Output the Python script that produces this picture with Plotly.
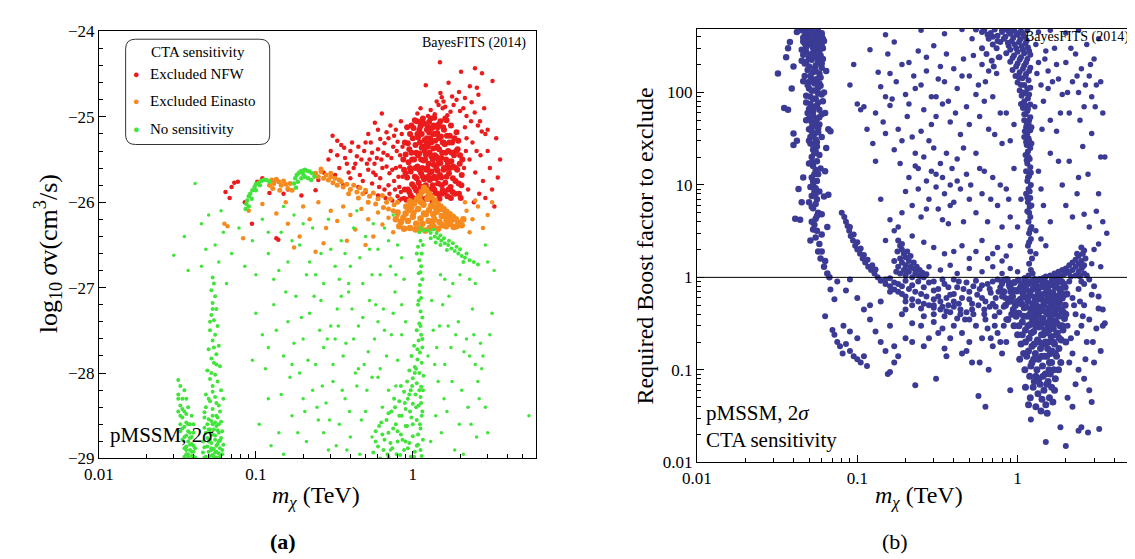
import plotly.graph_objects as go

# ---------------- panel (a): log10 sigma v vs m_chi (TeV) ----------------
# points are (mass in TeV, log10 <sigma v>)
nfw_core = [(0.88,-25.62),(0.89,-25.85),(0.9,-25.44),(0.91,-25.97),(0.92,-25.71),(0.93,-25.31),(0.94,-25.53),(0.95,-25.88),
    (0.96,-25.2),(0.97,-25.64),(0.98,-25.42),(0.99,-25.79),(1.0,-25.95),(1.01,-25.13),(1.02,-25.5),(1.03,-25.7),(1.04,-25.33),
    (1.05,-25.86),(1.06,-25.05),(1.07,-25.58),(1.08,-25.24),(1.09,-25.77),(1.1,-25.43),(1.11,-25.93),(1.12,-25.11),(1.13,-25.66),
    (1.14,-25.36),(1.15,-25.82),(1.16,-25.02),(1.17,-25.51),(1.18,-25.73),(1.19,-25.27),(1.2,-25.96),(1.21,-25.44),(1.22,-25.62),
    (1.23,-25.15),(1.24,-25.85),(1.25,-25.35),(1.26,-25.55),(1.27,-25.06),(1.28,-25.74),(1.29,-25.25),(1.3,-25.92),(1.31,-25.46),
    (1.32,-25.64),(1.33,-25.13),(1.34,-25.8),(1.35,-25.37),(1.36,-25.56),(1.37,-25.01),(1.38,-25.7),(1.39,-25.28),(1.4,-25.89),
    (1.42,-25.47),(1.43,-25.19),(1.44,-25.63),(1.45,-25.78),(1.46,-25.09),(1.47,-25.38),(1.48,-25.96),(1.5,-25.54),(1.51,-25.23),
    (1.52,-25.71),(1.54,-25.42),(1.55,-25.86),(1.56,-25.12),(1.58,-25.6),(1.6,-25.32),(1.61,-25.77),(1.63,-25.5),(1.64,-25.04),
    (1.66,-25.93),(1.68,-25.4),(1.7,-25.66),(1.72,-25.22),(1.74,-25.82),(1.76,-25.52),(1.78,-25.3),(1.8,-25.72),(1.83,-25.45),
    (1.86,-25.9),(1.88,-25.6),(1.9,-25.18),(1.93,-25.38),(1.96,-25.78),(1.99,-25.55),(2.02,-25.95),(2.05,-25.68),(1.15,-25.6),
    (1.25,-25.7),(1.35,-25.2),(1.45,-25.5),(1.05,-25.42),(1.19,-25.4),(1.29,-25.85),(1.41,-25.6),(0.97,-25.92),(1.09,-25.9),
    (1.53,-25.9),(1.65,-25.6),(1.75,-25.95),(1.11,-25.3),(1.23,-25.25),(1.57,-25.3),(1.33,-25.98)]
nfw_core_fill = [(0.87,-25.5),(0.89,-25.3),(0.9,-25.66),(0.92,-25.12),(0.93,-25.85),(0.95,-25.38),(0.96,-25.6),(0.98,-25.1),
    (0.99,-25.5),(1.0,-25.25),(1.02,-25.82),(1.03,-25.04),(1.04,-25.6),(1.06,-25.72),(1.07,-25.2),(1.08,-25.45),(1.1,-25.62),
    (1.11,-25.06),(1.12,-25.82),(1.13,-25.5),(1.14,-25.2),(1.16,-25.7),(1.17,-25.35),(1.18,-25.08),(1.2,-25.5),(1.21,-25.8),
    (1.22,-25.3),(1.24,-25.6),(1.25,-25.12),(1.26,-25.92),(1.28,-25.42),(1.29,-25.65),(1.3,-25.02),(1.31,-25.3),(1.33,-25.72),
    (1.34,-25.5),(1.36,-25.1),(1.37,-25.85),(1.38,-25.45),(1.4,-25.2),(1.41,-25.72),(1.43,-25.35),(1.44,-25.9),(1.46,-25.55),
    (1.47,-25.25),(1.49,-25.68),(1.5,-25.05),(1.52,-25.48),(1.53,-25.8),(1.55,-25.3),(1.57,-25.62),(1.58,-25.15),(1.6,-25.88),
    (1.62,-25.42),(1.64,-25.7),(1.65,-25.22),(1.67,-25.55),(1.69,-25.85),(1.71,-25.3),(1.73,-25.6),(1.75,-25.1),(1.77,-25.42),
    (1.79,-25.88),(1.81,-25.58),(1.84,-25.25),(1.87,-25.75),(1.89,-25.4),(1.92,-25.62),(1.95,-25.28),(1.97,-25.9),(2.0,-25.45),
    (2.04,-25.8),(2.07,-25.5),(1.1,-25.15),(1.27,-25.18),(1.44,-25.12),(1.61,-25.02)]
nfw_upper = [(1.49,-24.36),(2.49,-24.43),(2.03,-24.47),(2.76,-24.49),(3.22,-24.58),(1.21,-24.63),(1.69,-24.6),(2.31,-24.64),
    (2.56,-24.66),(2.62,-24.74),(2.37,-24.83),(1.5,-24.72),(1.53,-24.77),(1.57,-24.82),(1.61,-24.88),(1.46,-24.86),(1.74,-24.94),
    (1.9,-24.8),(2.1,-24.9),(1.38,-24.97),(1.3,-24.92),(2.2,-24.99),(2.48,-24.95),(2.85,-24.9),(1.97,-24.71),(1.07,-24.96),
    (2.68,-25.05),(3.0,-25.15),(1.82,-24.86),(1.66,-24.98),(1.42,-24.82),(1.55,-24.9),(1.25,-24.99),(1.78,-24.76),(2.15,-24.78),
    (2.0,-24.93),(1.12,-24.9)]
nfw_scatter = [(0.635,-24.96),(0.573,-25.07),(0.62,-25.26),(0.308,-25.22),(0.35,-25.33),(0.365,-25.36),(0.33,-25.45),(0.4,-25.4),
    (0.45,-25.35),(0.5,-25.3),(0.55,-25.42),(0.6,-25.38),(0.66,-25.31),(0.7,-25.25),(0.75,-25.35),(0.8,-25.29),(0.85,-25.2),
    (0.38,-25.55),(0.42,-25.6),(0.47,-25.5),(0.52,-25.62),(0.57,-25.55),(0.63,-25.5),(0.68,-25.58),(0.73,-25.48),(0.78,-25.6),
    (0.83,-25.45),(0.32,-25.68),(0.4,-25.72),(0.48,-25.75),(0.55,-25.78),(0.62,-25.72),(0.7,-25.8),(0.76,-25.75),(0.82,-25.82),
    (0.86,-25.7),(0.5,-25.88),(0.6,-25.92),(0.67,-25.95),(0.74,-25.98),(0.8,-25.93),(0.45,-25.82),(0.34,-25.6),(0.29,-25.5),
    (0.27,-25.65),(0.44,-25.46),(0.58,-25.68),(0.71,-25.66),(0.84,-25.88),(0.36,-25.8),(0.25,-25.74),(0.65,-25.42),(0.53,-25.5),
    (0.78,-25.15),(0.72,-25.1),(0.84,-25.05),
    (0.3,-25.4),(0.33,-25.28),(0.37,-25.48),(0.39,-25.65),(0.41,-25.3),(0.43,-25.55),(0.46,-25.68),(0.49,-25.4),(0.51,-25.55),
    (0.54,-25.3),(0.56,-25.65),(0.59,-25.48),(0.61,-25.82),(0.64,-25.6),(0.66,-25.85),(0.69,-25.45),(0.71,-25.9),(0.74,-25.62),
    (0.77,-25.85),(0.79,-25.4),(0.81,-25.7),(0.83,-25.58),(0.86,-25.35),(0.76,-25.22),(0.68,-25.18),(0.6,-25.15),(0.88,-25.95),
    (0.85,-25.96),(0.82,-25.98),(0.52,-25.2),
    (3.48,-25.71),(3.31,-26.05),(2.9,-25.95),(2.2,-25.25),(2.3,-25.5),(2.4,-25.3),(2.5,-25.65),(2.6,-25.1),(2.7,-25.45),
    (2.8,-25.75),(3.0,-25.4),(3.1,-25.6),(2.25,-25.85),(2.45,-26.0),(2.65,-25.9),(3.4,-25.25),(2.15,-25.12),(2.35,-25.05),
    (2.9,-25.2),(3.2,-25.85),(2.55,-25.4),(2.75,-25.17),(3.6,-25.5),(2.12,-25.6),(2.18,-25.4),
    (0.064,-25.88),(0.0728,-25.77),(0.0768,-25.76),(0.068,-25.95),(0.0944,-26.25),(0.135,-26.42),(0.139,-26.44),(0.122,-25.89),
    (0.16,-25.85),(0.195,-25.92),(0.102,-25.76),(0.11,-25.72),(0.07,-25.82),(0.085,-26.0),(0.15,-25.9),(0.13,-25.77),(0.24,-25.86)]

einasto_core = [(1.18,-25.83),(1.22,-25.86),(1.14,-25.88),(1.27,-25.9),(1.1,-25.93),(1.32,-25.94),(1.06,-25.97),(1.38,-25.98),
    (1.02,-26.01),(1.44,-26.02),(0.98,-26.05),(1.5,-26.05),(0.94,-26.09),(1.57,-26.08),(0.9,-26.13),(1.64,-26.11),(0.87,-26.18),
    (1.72,-26.14),(0.84,-26.23),(1.8,-26.17),(0.82,-26.28),(1.88,-26.2),(1.96,-26.24),(2.05,-26.27),(0.88,-26.31),(0.96,-26.3),
    (1.04,-26.32),(1.12,-26.31),(1.2,-26.33),(1.28,-26.3),(1.36,-26.29),(1.45,-26.31),(1.54,-26.27),(1.63,-26.28),(1.72,-26.25),
    (1.82,-26.29),(1.24,-25.96),(1.17,-26.03),(1.31,-26.04),(1.08,-26.08),(1.42,-26.11),(1.0,-26.17),(1.53,-26.16),(0.93,-26.22),
    (1.64,-26.21),(1.12,-26.19),(1.37,-26.2),(1.21,-26.14),(1.27,-26.09),(1.15,-26.25),(1.33,-26.24),(1.05,-26.25),(1.48,-26.23),
    (1.6,-26.15),(1.76,-26.21),(1.9,-26.28),(0.91,-26.05),(0.96,-25.99),(1.26,-26.22),(1.18,-26.13),(1.4,-26.06),(1.01,-26.12),
    (1.52,-26.08),(1.7,-26.19),(1.13,-26.0),(1.35,-26.14),(0.78,-26.2),(0.8,-26.12),(2.1,-26.2)]
einasto_arc = [(0.122,-25.8),(0.126,-25.74),(0.13,-25.78),(0.135,-25.73),(0.14,-25.76),(0.145,-25.8),(0.15,-25.75),(0.155,-25.79),
    (0.16,-25.84),(0.165,-25.78),(0.17,-25.86),(0.128,-25.84),(0.142,-25.86),(0.24,-25.66),(0.25,-25.7),(0.26,-25.64),(0.27,-25.72),
    (0.28,-25.68),(0.29,-25.74),(0.3,-25.7),(0.31,-25.77),(0.32,-25.72),(0.33,-25.8),(0.35,-25.76),(0.36,-25.82),(0.38,-25.79),
    (0.4,-25.85),(0.42,-25.8),(0.44,-25.88),(0.46,-25.83),(0.48,-25.9),(0.5,-25.86),(0.53,-25.93),(0.56,-25.89),(0.6,-25.96),
    (0.64,-25.92),(0.68,-26.0),(0.72,-25.96),(0.76,-26.03),(0.8,-26.0),(0.26,-25.61),(0.3,-25.66),(0.34,-25.74),(0.39,-25.9),
    (0.45,-25.95),(0.52,-26.0),(0.58,-26.02),(0.65,-26.06),(0.7,-26.08),(0.75,-26.1)]
einasto_scatter = [(0.063,-26.25),(0.066,-26.28),(0.083,-26.42),(0.09,-26.1),(0.135,-26.13),(0.175,-26.53),(0.2,-26.05),
    (0.22,-26.2),(0.25,-26.0),(0.28,-26.3),(0.3,-26.1),(0.33,-26.22),(0.36,-26.05),(0.4,-26.15),(0.43,-26.32),(0.47,-26.08),
    (0.52,-26.2),(0.56,-26.4),(0.6,-26.12),(0.64,-26.26),(0.7,-26.18),(0.75,-26.35),(0.8,-26.15),(2.2,-26.1),(2.4,-26.2),
    (2.6,-26.05),(2.8,-26.3),(3.0,-26.15),(2.3,-26.35),(3.2,-26.0),(0.11,-26.02),(0.16,-26.25),(0.19,-26.4),(0.38,-26.45),
    (0.5,-26.5),(0.24,-26.58),(0.155,-26.0),(0.27,-26.48),(2.5,-25.98),(2.15,-26.0)]

nosens_arc = [(0.086,-26.08),(0.087,-26.02),(0.088,-25.98),(0.09,-25.93),(0.092,-25.9),(0.095,-25.86),(0.098,-25.82),(0.1,-25.79),
    (0.104,-25.77),(0.108,-25.75),(0.112,-25.74),(0.117,-25.74),(0.122,-25.76),(0.09,-26.05),(0.094,-25.96),(0.1,-25.86),
    (0.106,-25.8),(0.175,-25.78),(0.178,-25.72),(0.182,-25.68),(0.187,-25.66),(0.192,-25.64),(0.198,-25.63),(0.205,-25.62),
    (0.212,-25.63),(0.22,-25.64),(0.228,-25.66),(0.236,-25.7),(0.185,-25.76),(0.195,-25.72),(0.205,-25.7),(0.215,-25.72),
    (0.225,-25.74),(0.2,-25.67),(0.18,-25.83)]
nosens_tail = [(1.12,-26.3),(1.18,-26.33),(1.25,-26.33),(1.3,-26.36),(1.38,-26.4),(1.45,-26.42),(1.52,-26.45),(1.6,-26.48),
    (1.68,-26.5),(1.76,-26.54),(1.85,-26.57),(1.95,-26.6),(2.05,-26.63),(2.15,-26.65),(2.3,-26.68),(2.45,-26.7),(2.6,-26.73),
    (1.35,-26.32),(1.42,-26.36),(1.5,-26.39),(1.58,-26.42),(1.7,-26.45),(1.8,-26.48),(1.9,-26.52),(2.0,-26.55),(2.2,-26.6),
    (1.65,-26.56),(1.5,-26.5),(1.4,-26.47),(1.3,-26.42),(2.1,-26.7),(1.1,-26.35),(1.12,-26.45),(1.08,-26.52),(1.14,-26.6),
    (1.1,-26.68),(1.13,-26.75),(1.09,-26.83),(1.15,-26.9),(1.11,-26.97),(1.06,-26.6),(1.16,-26.5),(1.12,-26.82)]
nosens_bands = [(1.1,-27.05),(1.13,-27.12),(1.08,-27.2),(1.12,-27.28),(1.15,-27.35),(1.1,-27.42),(1.06,-27.5),(1.13,-27.55),
    (1.09,-27.62),(1.02,-27.68),(1.15,-27.7),(1.11,-27.76),(0.98,-27.8),(1.07,-27.84),(1.14,-27.88),(1.03,-27.93),(0.95,-27.97),
    (1.1,-28.0),(1.17,-28.03),(1.0,-28.06),(0.92,-28.1),(1.06,-28.12),(1.13,-28.16),(0.97,-28.2),(0.88,-28.22),(1.04,-28.25),
    (1.12,-28.28),(0.93,-28.3),(0.82,-28.33),(1.0,-28.36),(1.09,-28.38),(0.77,-28.4),(0.9,-28.42),(1.15,-28.45),(0.7,-28.47),
    (0.85,-28.5),(0.98,-28.52),(1.06,-28.55),(0.63,-28.58),(0.78,-28.6),(0.92,-28.62),(1.12,-28.65),(0.58,-28.68),(0.7,-28.7),
    (0.84,-28.72),(1.0,-28.74),(0.66,-28.78),(0.8,-28.8),(0.95,-28.82),(1.08,-28.84),(0.6,-28.86),(0.74,-28.88),(0.88,-28.9),
    (1.03,-28.92),(0.69,-28.95),(0.83,-28.96),(0.97,-28.98),(1.14,-28.97),(0.56,-28.93),(1.11,-28.6),(1.16,-28.2),(1.05,-27.95),
    (0.9,-28.8),(0.62,-29.0),
    (0.58,-28.8),(0.61,-28.62),(0.65,-28.9),(0.68,-28.55),(0.72,-28.82),(0.75,-28.65),(0.79,-28.95),(0.82,-28.5),(0.86,-28.78),
    (0.89,-28.35),(0.93,-28.88),(0.96,-28.45),(1.0,-28.6),(1.02,-28.98),(1.05,-28.4),(1.08,-28.72),(1.1,-28.2),(1.12,-28.9),
    (1.14,-28.5),(1.16,-28.78),(0.76,-28.3),(0.7,-28.98),(0.84,-28.15),(0.99,-28.15),(1.07,-27.72),(1.12,-27.45),(1.09,-27.15),
    (1.15,-27.6),(1.03,-28.0),(0.95,-28.25),(1.13,-28.35),(1.06,-28.85),(0.9,-28.62),(0.8,-28.68),(0.64,-28.72),(0.73,-28.45),
    (0.032,-28.08),(0.033,-28.15),(0.032,-28.25),(0.034,-28.3),(0.033,-28.38),(0.035,-28.45),(0.034,-28.52),(0.036,-28.58),
    (0.035,-28.63),(0.037,-28.68),(0.036,-28.73),(0.038,-28.76),(0.037,-28.8),(0.039,-28.83),(0.036,-28.86),(0.038,-28.9),
    (0.04,-28.92),(0.037,-28.95),(0.039,-28.97),(0.041,-28.99),(0.035,-28.98),(0.033,-28.5),(0.037,-28.4),(0.038,-28.6),
    (0.04,-28.7),(0.035,-28.2),(0.036,-28.9),(0.04,-28.85),(0.034,-28.65),(0.039,-28.5),
    (0.032,-28.3),(0.033,-28.6),(0.034,-28.78),(0.035,-28.88),(0.036,-28.95),(0.037,-28.6),(0.038,-28.84),(0.039,-28.92),
    (0.04,-28.98),(0.041,-28.88),(0.034,-28.42),(0.036,-28.48),(0.038,-28.7),(0.039,-28.75),(0.037,-28.99),(0.035,-28.75),
    (0.033,-28.68),(0.04,-28.6),(0.032,-28.45),(0.036,-28.3),
    (0.053,-26.88),(0.054,-26.95),(0.052,-27.03),(0.055,-27.1),(0.053,-27.18),(0.056,-27.25),(0.052,-27.32),(0.054,-27.38),
    (0.057,-27.45),(0.051,-27.5),(0.055,-27.55),(0.053,-27.62),(0.058,-27.68),(0.05,-27.72),(0.056,-27.78),(0.052,-27.83),
    (0.054,-27.88),(0.059,-27.92),(0.049,-27.97),(0.055,-28.02),(0.051,-28.07),(0.057,-28.1),(0.053,-28.15),(0.06,-28.2),
    (0.048,-28.25),(0.055,-28.28),(0.051,-28.33),(0.058,-28.38),(0.053,-28.42),(0.047,-28.46),(0.056,-28.5),(0.05,-28.54),
    (0.06,-28.57),(0.053,-28.6),(0.047,-28.64),(0.057,-28.67),(0.051,-28.7),(0.055,-28.73),(0.049,-28.76),(0.059,-28.79),
    (0.052,-28.82),(0.056,-28.85),(0.047,-28.87),(0.054,-28.89),(0.05,-28.92),(0.058,-28.94),(0.053,-28.96),(0.048,-28.98),
    (0.056,-28.99),(0.061,-28.9),(0.051,-28.97),(0.055,-28.93),(0.052,-28.88),(0.058,-28.6),(0.046,-28.8),(0.062,-28.3),
    (0.047,-28.52),(0.049,-28.6),(0.051,-28.66),(0.053,-28.72),(0.055,-28.78),(0.057,-28.83),(0.059,-28.88),(0.061,-28.95),
    (0.048,-28.7),(0.05,-28.8),(0.052,-28.9),(0.054,-28.98),(0.056,-28.62),(0.058,-28.7),(0.06,-28.76),(0.062,-28.84),
    (0.046,-28.93),(0.049,-28.86),(0.051,-28.78),(0.053,-28.5),(0.055,-28.58),(0.057,-28.52),(0.059,-28.98),(0.061,-28.68),
    (0.047,-28.99),(0.05,-28.66),(0.052,-28.56),(0.054,-28.66),(0.056,-28.92),(0.058,-28.8),(0.048,-28.4),(0.05,-28.3),
    (0.053,-28.22),(0.056,-28.35),(0.059,-28.45),(0.052,-28.0),(0.054,-27.7),(0.051,-27.4),(0.056,-27.9),(0.053,-27.25)]
nosens_scatter = [(0.041,-25.78),(0.035,-26.4),(0.037,-26.8),(0.045,-26.25),(0.048,-26.55),(0.05,-26.15),(0.058,-26.7),
    (0.062,-26.35),(0.07,-26.6),(0.078,-26.3),(0.085,-26.75),(0.095,-26.45),(0.11,-26.2),(0.12,-26.6),(0.13,-26.9),(0.145,-26.35),
    (0.16,-26.7),(0.175,-26.15),(0.19,-26.5),(0.21,-26.85),(0.23,-26.3),(0.26,-26.6),(0.29,-26.2),(0.32,-26.75),(0.35,-26.45),
    (0.39,-26.95),(0.42,-26.3),(0.46,-26.65),(0.5,-26.4),(0.55,-26.85),(0.6,-26.55),(0.66,-26.3),(0.72,-26.75),(0.8,-26.5),
    (0.88,-26.9),(1.5,-26.85),(1.8,-26.95),(2.3,-26.9),(2.9,-26.5),(3.3,-26.8),(0.15,-26.05),(0.27,-26.95),(0.065,-26.95),
    (0.1,-26.85),(0.44,-26.1),(0.75,-26.15),(0.22,-26.7),(0.37,-26.6),(0.56,-26.25),(0.03,-26.62),
    (0.095,-27.85),(0.11,-27.55),(0.12,-28.3),(0.13,-27.2),(0.14,-28.7),(0.15,-27.8),(0.16,-27.4),(0.17,-28.5),(0.18,-27.1),
    (0.19,-28.0),(0.2,-27.6),(0.21,-28.8),(0.22,-27.3),(0.23,-28.2),(0.24,-27.9),(0.25,-28.55),(0.26,-27.15),(0.27,-27.7),
    (0.28,-28.35),(0.29,-28.9),(0.3,-27.45),(0.31,-28.1),(0.33,-27.25),(0.34,-28.6),(0.36,-27.8),(0.37,-28.3),(0.39,-27.05),
    (0.4,-28.75),(0.42,-27.6),(0.44,-28.15),(0.46,-28.95),(0.48,-27.35),(0.5,-28.45),(0.52,-27.75),(0.55,-28.05),(0.58,-27.2),
    (0.62,-27.95),(0.66,-27.5),(0.7,-28.2),(0.75,-27.3),(0.8,-27.85),(1.35,-27.5),(1.45,-28.1),(1.55,-27.2),(1.65,-28.45),
    (1.75,-27.7),(1.85,-28.9),(1.95,-27.4),(2.05,-28.2),(2.2,-27.6),(2.35,-28.6),(2.5,-27.9),(2.65,-28.3),(2.8,-27.8),(3.0,-28.7),
    (3.2,-27.3),(1.3,-28.8),(1.6,-27.9),(2.1,-28.95),(5.5,-28.5),(0.2,-28.3),(0.27,-28.7),(0.32,-27.6),(0.38,-28.9),(0.45,-27.95),
    (0.55,-28.75),(0.64,-28.4),(0.72,-28.9),(0.78,-28.15),(1.4,-28.5),(1.7,-27.1),(2.4,-27.25),(2.7,-27.65),(1.25,-27.8),
    (0.15,-28.95),(0.12,-27.7),(0.17,-27.9),(0.35,-27.1),(0.6,-27.4),(0.85,-27.2),
    (0.1,-27.3),(0.105,-28.6),(0.115,-27.95),(0.125,-28.85),(0.135,-27.5),(0.145,-28.25),(0.155,-27.05),(0.165,-28.05),
    (0.175,-27.65),(0.185,-28.7),(0.195,-27.35),(0.205,-28.45),(0.215,-27.85),(0.235,-27.1),(0.245,-28.4),(0.255,-27.5),
    (0.265,-28.15),(0.285,-27.6),(0.295,-28.55),(0.31,-27.9),(0.325,-28.85),(0.335,-27.45),(0.355,-28.2),(0.375,-27.65),
    (0.395,-28.45),(0.41,-27.25),(0.43,-28.0),(0.45,-27.45),(0.47,-28.55),(0.49,-27.9),(0.51,-28.2),(0.53,-27.15),(0.57,-27.6),
    (0.6,-28.05),(0.65,-27.25),(0.68,-27.8),(0.73,-27.55),(0.77,-27.05),(0.85,-27.55),(0.9,-27.4),(1.32,-27.15),(1.38,-27.9),
    (1.48,-27.45),(1.58,-28.3),(1.68,-27.45),(1.78,-28.1),(1.88,-27.55),(1.98,-28.6),(2.12,-27.75),(2.25,-28.4),(2.45,-27.55),
    (2.6,-28.1),(2.75,-27.95),(2.9,-28.4),(3.1,-27.55),(2.55,-28.75),(2.3,-27.8),(1.52,-28.7),(1.42,-27.7),(0.12,-26.35),
    (0.14,-26.8),(0.17,-26.45),(0.2,-26.25),(0.24,-26.85),(0.3,-26.55),(0.34,-26.9),(0.4,-26.75),(0.48,-26.95),(0.53,-26.55),
    (0.62,-26.85),(0.7,-26.45),(0.78,-26.85),(0.85,-26.65),(1.6,-26.9),(2.0,-26.85),(2.5,-26.95),(3.0,-26.7),(0.055,-26.5),
    (0.06,-26.1),(0.045,-26.75)]

# ---------------- panel (b): boost factor needed for exclusion ----------------
# points are (mass in TeV, required boost factor)
boost_low_band = [(0.047,480),(0.052,470),(0.057,460),(0.05,430),(0.055,420),(0.06,410),(0.046,390),(0.049,370),(0.053,360),
    (0.058,350),(0.051,330),(0.056,310),(0.061,300),(0.045,290),(0.048,275),(0.054,265),(0.059,250),(0.05,240),(0.052,225),
    (0.057,215),(0.047,205),(0.055,195),(0.06,185),(0.049,175),(0.053,165),(0.058,160),(0.051,150),(0.056,140),(0.046,132),
    (0.054,125),(0.059,118),(0.05,110),(0.052,104),(0.057,98),(0.048,92),(0.055,86),(0.061,80),(0.051,75),(0.054,70),(0.058,65),
    (0.049,60),(0.053,56),(0.056,52),(0.052,48),(0.055,44),(0.05,40),(0.057,37),(0.053,34),(0.055,31),(0.051,28),(0.056,26),
    (0.053,24),(0.054,22),(0.052,20),(0.056,18),(0.053,16),(0.055,14.5),(0.054,13),(0.052,12),(0.056,11),(0.053,10),(0.055,9.2),
    (0.054,8.4),(0.052,7.6),(0.056,7),(0.055,6.2),(0.053,5.6),(0.057,5),(0.055,4.3),(0.054,3.7),(0.056,3.2),(0.055,2.7),
    (0.058,2.3),(0.057,1.9),(0.059,1.6),(0.062,1.3),(0.065,1.1),(0.048,450),(0.058,440),(0.053,400),(0.061,380),(0.047,340),
    (0.057,290),(0.052,260),(0.061,230),(0.048,215),(0.054,180),(0.05,130),(0.058,125),(0.053,85),(0.057,78),(0.05,66),(0.06,58),
    (0.048,50),(0.058,45),(0.052,38),(0.06,33),(0.05,30),(0.058,21),(0.05,17),(0.059,15),(0.051,9.5),(0.058,8.5),(0.05,6.5),
    (0.06,4.8),(0.052,4.0),(0.051,2.5),(0.06,2.9),(0.062,7.5),(0.063,14),(0.064,25),(0.066,40),(0.06,1.9),(0.063,1.5),(0.067,1.0),
    (0.045,470),(0.05,455),(0.055,445),(0.06,435),(0.047,410),(0.052,395),(0.057,385),(0.062,360),(0.046,355),(0.05,345),
    (0.055,335),(0.06,320),(0.048,310),(0.053,300),(0.058,280),(0.046,255),(0.051,250),(0.056,240),(0.06,205),(0.045,220),
    (0.05,190),(0.055,170),(0.059,145),(0.047,150),(0.052,140),(0.057,112),(0.049,120),(0.054,105),(0.06,95),(0.051,90),
    (0.056,72),(0.048,78),(0.053,62),(0.058,54),(0.05,52),(0.055,48),(0.052,42),(0.057,41),(0.054,36),(0.051,33),(0.056,29),
    (0.053,27),(0.055,23),(0.052,17.5),(0.057,13),(0.053,11),(0.055,8),(0.052,5.8),(0.056,4.6),(0.053,3.3),
    (0.032,160),(0.036,240),(0.038,350),(0.035,68),(0.037,65),(0.04,27),(0.04,36),(0.042,30),(0.041,4.3),(0.044,4.2),(0.037,300),
    (0.039,110),(0.043,9),(0.045,6.5),(0.046,12),(0.042,450),(0.04,190),(0.065,3.5),(0.066,7.8),(0.068,38),(0.063,60),(0.062,100),
    (0.064,170)]
boost_core = [(0.86,0.95),(0.9,0.78),(0.93,0.62),(0.95,0.88),(0.97,0.5),(0.99,0.71),(1.01,0.93),(1.02,0.41),(1.04,0.58),
    (1.05,0.8),(1.07,0.33),(1.08,0.67),(1.1,0.47),(1.11,0.97),(1.12,0.27),(1.13,0.74),(1.15,0.38),(1.16,0.56),(1.17,0.86),
    (1.18,0.22),(1.19,0.64),(1.2,0.31),(1.21,0.45),(1.22,0.9),(1.23,0.18),(1.24,0.52),(1.25,0.76),(1.26,0.26),(1.27,0.4),
    (1.28,0.61),(1.29,0.15),(1.3,0.84),(1.31,0.34),(1.32,0.49),(1.33,0.21),(1.34,0.7),(1.35,0.13),(1.36,0.29),(1.37,0.95),
    (1.38,0.43),(1.39,0.17),(1.4,0.58),(1.41,0.24),(1.42,0.79),(1.43,0.11),(1.44,0.36),(1.45,0.5),(1.46,0.19),(1.47,0.66),
    (1.48,0.27),(1.49,0.09),(1.5,0.88),(1.51,0.42),(1.52,0.14),(1.53,0.56),(1.54,0.31),(1.55,0.72),(1.56,0.2),(1.57,0.46),
    (1.58,0.12),(1.59,0.6),(1.6,0.35),(1.61,0.83),(1.62,0.23),(1.63,0.51),(1.64,0.16),(1.65,0.4),(1.66,0.68),(1.67,0.28),
    (1.68,0.1),(1.69,0.55),(1.7,0.19),(1.72,0.78),(1.73,0.33),(1.74,0.45),(1.75,0.14),(1.76,0.62),(1.77,0.25),(1.78,0.92),
    (1.8,0.38),(1.81,0.17),(1.82,0.53),(1.84,0.3),(1.85,0.7),(1.87,0.21),(1.88,0.44),(1.9,0.6),(1.92,0.27),(1.94,0.85),
    (1.96,0.36),(1.98,0.5),(2.0,0.2),(2.03,0.66),(1.14,0.14),(1.21,0.11),(1.3,0.085),(1.38,0.07),(1.46,0.06),(1.55,0.075),
    (1.63,0.065),(1.72,0.08),(1.8,0.1),(1.25,0.065),(1.34,0.055),(1.42,0.048),(1.5,0.042),(1.58,0.05),(1.66,0.045),(1.2,0.05),
    (1.3,0.04),(1.4,0.036),(1.17,0.042),(1.53,0.034),(1.0,0.24),(1.05,0.19),(1.09,0.15),(0.95,0.3),(0.92,0.4),(0.88,0.55),
    (1.03,0.13),(1.11,0.1),(1.19,0.085),(1.26,0.13),(1.35,0.38),(1.44,0.24),(1.52,0.65),(1.6,0.15),(1.69,0.34),(1.78,0.48),
    (1.86,0.12),(1.93,0.42),(1.24,0.35),(1.32,0.6),(1.41,0.32),(1.49,0.2),(1.57,0.27),(1.66,0.58),(1.74,0.24),(1.83,0.75),
    (1.15,0.6),(1.09,0.85),(1.28,0.95),(1.45,0.97),(1.65,0.95),(1.88,0.9),(1.98,0.78),
    (0.8,0.9),(0.82,0.7),(0.84,0.5),(0.87,0.35),(0.89,0.82),(0.91,0.6),(0.94,0.45),(0.96,0.72),(0.98,0.38),(1.0,0.55),(1.02,0.3),
    (1.03,0.75),(1.06,0.52),(1.07,0.24),(1.09,0.38),(1.1,0.62),(1.12,0.2),(1.13,0.48),(1.14,0.9),(1.16,0.3),(1.17,0.16),(1.19,0.4),
    (1.2,0.7),(1.22,0.25),(1.23,0.12),(1.25,0.45),(1.26,0.88),(1.27,0.19),(1.29,0.55),(1.3,0.3),(1.32,0.1),(1.33,0.8),(1.35,0.45),
    (1.36,0.2),(1.38,0.65),(1.39,0.3),(1.41,0.14),(1.42,0.47),(1.44,0.9),(1.46,0.33),(1.47,0.14),(1.49,0.55),(1.5,0.25),
    (1.52,0.75),(1.54,0.17),(1.55,0.4),(1.57,0.1),(1.58,0.85),(1.6,0.48),(1.62,0.3),(1.63,0.12),(1.65,0.62),(1.67,0.2),(1.7,0.42),
    (1.72,0.15),(1.74,0.85),(1.76,0.32),(1.79,0.6),(1.82,0.22),(1.85,0.45),(1.9,0.3),(1.95,0.65),(2.0,0.4),(1.36,0.08),
    (1.44,0.085),(1.52,0.07),(1.6,0.09),(1.27,0.075),(1.12,0.065),(1.7,0.06)]
boost_below = [(2.1,0.9),(2.2,0.6),(2.3,0.4),(2.4,0.75),(2.5,0.3),(2.6,0.5),(2.7,0.2),(2.8,0.35),(2.9,0.65),(3.0,0.12),(3.2,0.46),
    (3.4,0.3),(2.2,0.15),(2.4,0.1),(2.6,0.08),(2.8,0.06),(2.5,0.024),(2.75,0.021),(3.23,0.023),(2.9,0.045),(2.2,0.04),(2.05,0.05),
    (3.1,0.28),(3.3,0.16),(2.6,0.85),(2.05,0.3),(2.15,0.22),(3.5,0.32),(3.4,0.45),(3.2,0.62),(2.35,0.25),(2.45,0.55),(2.65,0.13),
    (2.95,0.2),(2.1,0.12),(2.3,0.07),(1.5,0.0166),(2.0,0.015),(1.21,0.029),(1.85,0.024),(2.4,0.022),(2.5,0.9),(2.8,0.95),
    (3.0,0.8),(2.25,0.5),(2.55,0.38),
    (0.3,0.9),(0.32,0.75),(0.35,0.85),(0.38,0.65),(0.4,0.95),(0.42,0.78),(0.45,0.6),(0.48,0.88),(0.5,0.7),(0.52,0.52),(0.55,0.92),
    (0.58,0.75),(0.6,0.6),(0.62,0.45),(0.65,0.85),(0.68,0.68),(0.7,0.52),(0.72,0.38),(0.75,0.95),(0.78,0.78),(0.8,0.62),
    (0.82,0.48),(0.85,0.35),(0.88,0.88),(0.9,0.7),(0.92,0.55),(0.95,0.42),(0.97,0.3),(0.4,0.3),(0.45,0.25),(0.5,0.2),(0.55,0.3),
    (0.6,0.22),(0.65,0.28),(0.7,0.18),(0.75,0.25),(0.8,0.15),(0.58,0.12),(0.66,0.1),(0.4,0.55),(0.36,0.6),(0.44,0.4),(0.53,0.4),
    (0.63,0.35),(0.73,0.6),(0.83,0.95),(0.38,0.22),(0.48,0.16),(0.57,0.052),(0.63,0.04),(0.9,0.06),(0.85,0.2),(0.3,0.33),
    (0.34,0.28),
    (0.16,0.98),(0.18,0.85),(0.2,0.92),(0.22,0.82),(0.24,0.9),(0.26,0.78),(0.28,0.88),(0.3,0.72),(0.32,0.62),(0.34,0.95),
    (0.37,0.78),(0.4,0.66),(0.43,0.9),(0.46,0.75),(0.5,0.58),(0.53,0.8),(0.56,0.65),(0.6,0.82),(0.63,0.55),(0.67,0.75),(0.7,0.9),
    (0.73,0.48),(0.76,0.7),(0.8,0.85),(0.84,0.6),(0.2,0.45),(0.22,0.5),(0.26,0.38),(0.3,0.5),(0.34,0.48),(0.38,0.42),(0.43,0.52),
    (0.47,0.35),(0.52,0.45),(0.57,0.5),(0.62,0.4),(0.67,0.48),(0.72,0.3),(0.77,0.42),(0.82,0.3),(0.45,0.15),(0.52,0.12),
    (0.36,0.14),(0.68,0.22),(0.78,0.2),
    (0.14,0.92),(0.15,0.85),(0.16,0.8),(0.17,0.74),(0.18,0.7),(0.19,0.66),(0.2,0.62),(0.22,0.58),(0.24,0.55),(0.26,0.52),
    (0.28,0.5),(0.3,0.47),(0.33,0.45),(0.36,0.43),(0.15,0.95),(0.17,0.88),(0.19,0.8),(0.21,0.75),(0.23,0.7),(0.25,0.66),
    (0.27,0.62),(0.3,0.58),(0.33,0.55),(0.37,0.5),(0.4,0.48),(0.44,0.45),(0.48,0.42),(0.16,0.7),(0.2,0.55),(0.25,0.46),(0.3,0.4),
    (0.35,0.38),(0.42,0.36),(0.5,0.35),
    (0.068,0.74),(0.072,0.58),(0.063,0.38),(0.07,0.27),(0.072,0.24),(0.075,0.2),(0.078,0.18),(0.081,0.15),(0.085,0.19),
    (0.09,0.16),(0.095,0.14),(0.1,0.13),(0.105,0.12),(0.11,0.14),(0.115,0.11),(0.082,0.3),(0.09,0.26),(0.1,0.22),(0.11,0.45),
    (0.12,0.35),(0.13,0.26),(0.14,0.2),(0.15,0.16),(0.155,0.09),(0.16,0.095),(0.17,0.12),(0.18,0.14),(0.14,0.55),(0.12,0.5),
    (0.1,0.6),(0.085,0.72),(0.075,0.9),(0.09,0.95),(0.16,0.3),(0.17,0.18),(0.2,0.22),(0.22,0.2),(0.19,0.4),(0.23,0.068),
    (0.31,0.08),(0.25,0.3),(0.28,0.22),(0.22,0.32),(0.32,0.25),(0.35,0.17),(0.26,0.18)]
boost_high_band = [(0.85,480),(0.95,470),(1.05,460),(0.9,430),(1.0,420),(1.1,400),(0.82,380),(0.92,360),(1.02,350),(1.12,340),
    (0.88,320),(0.98,300),(1.08,290),(1.18,280),(0.85,265),(0.95,250),(1.05,240),(1.15,230),(0.9,215),(1.0,205),(1.1,195),
    (1.2,185),(0.93,175),(1.03,165),(1.13,158),(0.97,150),(1.07,142),(1.17,135),(1.0,128),(1.1,120),(1.2,112),(1.03,105),
    (1.13,98),(1.06,92),(1.16,86),(1.1,80),(1.2,74),(1.08,68),(1.15,63),(1.12,58),(1.2,54),(1.1,50),(1.17,46),(1.13,42),(1.2,39),
    (1.15,36),(1.1,33),(1.18,30),(1.14,27),(1.2,25),(1.16,23),(1.12,21),(1.19,19),(1.15,17),(1.2,15.5),(1.13,14),(1.18,12.5),
    (1.15,11),(1.21,10),(1.17,9),(1.13,8),(1.2,7.2),(1.16,6.5),(1.19,5.8),(1.15,5.2),(1.2,4.5),(1.17,4),(1.22,3.5),(1.18,3),
    (1.21,2.6),(1.16,2.2),(1.2,1.9),(1.23,1.6),(1.18,1.4),(1.21,1.2),(1.17,1.05),(1.24,1.1),
    (0.8,470),(0.88,455),(0.98,440),(1.08,430),(1.15,470),(0.84,400),(0.94,390),(1.04,375),(1.14,365),(0.87,345),(0.96,330),
    (1.06,315),(1.16,305),(0.9,290),(1.0,275),(1.1,265),(1.2,255),(0.93,235),(1.03,225),(1.13,210),(0.98,190),(1.08,180),
    (1.18,170),(1.02,145),(1.12,150),(1.05,120),(1.15,110),(1.08,100),(1.18,95),(1.12,72),(1.05,75),(1.16,66),(1.1,58),(1.18,50),
    (1.14,45),(1.22,42),(1.11,38),(1.17,32),(1.13,29),(1.22,28),(1.17,20),(1.14,18.5),(1.21,13.5),(1.16,12),(1.19,8.5),
    (1.15,7.3),(1.22,6),(1.18,5),(1.2,3.3),(1.18,2.4),(0.7,400),(0.75,360),(0.65,420),(0.6,450),(0.55,480),
    (0.62,470),(0.68,440),(0.72,480),(0.75,410),(0.66,380),(0.78,350),(0.7,330),(0.74,300),(0.8,450),(0.64,260),(0.77,240),
    (0.69,220),(0.6,300),(0.71,190),
    (2.5,2.1),(2.6,1.95),(2.55,1.8),(2.4,1.7),(2.65,1.6),(2.3,1.55),(2.5,1.5),(2.2,1.45),(2.4,1.4),(2.6,1.35),(2.1,1.35),(2.3,1.3),
    (2.0,1.25),(2.5,1.25),(1.9,1.2),(2.2,1.2),(2.4,1.15),(1.8,1.15),(2.05,1.12),(2.6,1.1),(1.7,1.1),(1.95,1.08),(2.3,1.05),
    (1.6,1.05),(1.85,1.03),(2.15,1.02),(1.5,1.02),(2.7,1.05),(2.45,1.02),(1.75,1.0),(2.35,1.8),(2.55,1.3),(2.1,1.15),
    (0.18,2.5),(0.185,2.2),(0.19,2.0),(0.178,1.9),(0.195,1.8),(0.2,1.65),(0.185,1.6),(0.21,1.5),(0.19,1.45),(0.2,1.35),
    (0.215,1.3),(0.225,1.25),(0.18,1.3),(0.195,1.2),(0.21,1.15),(0.23,1.1),(0.24,1.05),(0.25,1.02),(0.26,1.0),(0.185,1.1),
    (0.2,1.05),(0.22,1.0),(0.17,1.5),(0.175,1.15),(0.205,1.9),(0.215,1.7),(0.225,1.45),(0.235,1.3),(0.245,1.2),(0.255,1.12),
    (0.27,1.08),(0.19,2.3),(0.2,1.2),(0.23,1.22),
    (0.08,5.0),(0.083,4.5),(0.085,4.0),(0.087,3.6),(0.089,3.2),(0.091,2.8),(0.094,2.5),(0.097,2.2),(0.1,2.0),(0.104,1.8),
    (0.108,1.6),(0.112,1.45),(0.117,1.3),(0.122,1.2),(0.128,1.1),(0.134,1.0),(0.09,3.5),(0.095,2.9),(0.1,2.4),(0.105,2.05),
    (0.11,1.75),(0.116,1.55),(0.124,1.35),(0.13,1.22)]
boost_scatter = [(0.1,75),(0.105,65),(0.11,70),(0.12,290),(0.125,28),(0.13,18),(0.135,165),(0.14,115),(0.145,48),(0.15,36),
    (0.155,260),(0.16,72),(0.165,85),(0.17,24),(0.175,130),(0.18,40),(0.185,17),(0.19,200),(0.2,95),(0.205,55),(0.21,210),
    (0.22,33),(0.225,150),(0.23,22),(0.24,280),(0.25,120),(0.26,65),(0.27,170),(0.28,30),(0.29,45),(0.3,320),(0.31,90),(0.32,140),
    (0.34,75),(0.36,260),(0.38,48),(0.4,180),(0.42,110),(0.44,35),(0.46,230),(0.48,70),(0.5,150),(0.52,380),(0.55,95),(0.58,55),
    (0.6,200),(0.63,130),(0.66,40),(0.7,90),(0.74,160),(0.78,60),(0.8,28),(1.3,330),(1.35,210),(1.4,120),(1.45,80),(1.5,280),
    (1.55,170),(1.6,50),(1.7,300),(1.8,140),(1.9,95),(2.0,210),(2.1,60),(2.2,130),(2.3,260),(2.4,100),(2.5,180),(2.6,70),(2.7,330),
    (2.8,150),(2.9,90),(3.0,230),(3.1,120),(3.2,380),(1.35,450),(1.6,470),(2.0,440),(2.4,470),(0.45,480),(0.35,430),(0.25,470),
    (0.15,420),(3.6,3.0),(3.3,20),(3.4,4.0),(3.1,5.2),(3.2,2.3),(2.9,36),(2.75,13),(2.55,26),(2.35,8),(2.1,18),(1.9,10),(1.75,38),
    (1.6,22),(1.45,6),(1.35,14),(1.3,3.2),(1.4,2.6),(2.2,4.5),(2.6,4.8),(3.0,2.0),
    (0.09,120),(0.095,200),(0.115,40),(0.13,60),(0.15,90),(0.16,160),(0.17,350),(0.19,30),(0.21,75),(0.23,110),(0.25,38),
    (0.27,240),(0.29,90),(0.31,55),(0.33,190),(0.35,130),(0.37,80),(0.41,60),(0.45,150),(0.5,45),(0.53,250),(0.57,120),(0.62,80),
    (0.66,170),(0.72,35),(0.76,240),(0.85,60),(0.9,30),(0.95,45),(1.28,70),(1.32,160),(1.42,40),(1.48,230),(1.55,110),(1.65,130),
    (1.75,200),(1.85,60),(2.05,100),(2.15,300),(2.35,150),(2.45,50),(2.65,120),(2.85,200),(3.05,70),(3.3,130),(3.4,60),(3.5,20),
    (0.24,15),(0.27,5.5),(0.31,13),(0.34,4.2),(0.38,6),(0.42,11),(0.46,25),(0.51,10),(0.58,15),(0.68,7),(0.78,10),(0.88,7),
    (1.4,9),(1.6,4),(1.8,18),(2.0,6),(2.4,12),(2.8,3.5),(3.2,8),(1.3,1.8),(1.5,2.2),(2.9,1.4),(3.3,1.3),
    (0.2,8.5),(0.21,12),(0.22,6),(0.23,16),(0.24,9),(0.25,4.5),(0.26,20),(0.27,11),(0.28,7),(0.29,14),(0.3,25),(0.31,9.5),
    (0.32,5.5),(0.33,17),(0.34,12),(0.35,8),(0.36,22),(0.37,3.8),(0.38,10),(0.39,15),(0.4,6.5),(0.42,19),(0.44,9),(0.46,4),
    (0.48,13),(0.5,7),(0.19,5),(0.18,3.5),(0.17,3.2),(0.16,4.2),(0.15,2.5),(0.14,7),(0.22,2.8),(0.26,2.4),(0.3,2.1),(0.35,1.8),
    (0.4,1.9),(0.45,2.2),(0.5,1.6),(0.55,1.9),(0.6,2.5),(0.65,1.6),(0.7,1.8),(0.75,2.1),(0.8,1.5),(0.85,1.7),(0.55,5),(0.6,8),
    (0.65,4),(0.7,12),(0.75,6),(0.8,3.5),(0.85,9),(0.9,4.5),(0.95,15),(0.55,22),(0.62,14),(0.9,2.2),(1.0,3.5),(1.05,7),(0.28,1.3),
    (0.33,1.2),(0.38,1.35),(0.42,1.1),(0.5,1.25),(0.6,1.15),(0.7,1.3),(0.8,1.1),(0.9,1.25),(1.0,1.15)]
boost_limit = 1.0

x_ticks = [0.01, 0.1, 1]
x_minor = [0.02, 0.03, 0.04, 0.05, 0.06, 0.07, 0.08, 0.09, 0.2, 0.3, 0.4, 0.5, 0.6, 0.7, 0.8, 0.9, 2, 3, 4, 5]
sv_ticks = [-29, -28, -27, -26, -25, -24]
boost_ticks = [0.01, 0.1, 1, 10, 100]
boost_minor = [m * d for d in (0.01, 0.1, 1, 10, 100) for m in range(2, 10)]

RED, ORANGE, GREEN, BLUE = "#ec1b1b", "#f58a1f", "#40e43a", "#3b3b95"
SERIF = "Liberation Serif"
W, H = 1135, 559

fig = go.Figure()


def dots(pts, color, size, xa, ya):
    fig.add_trace(go.Scatter(x=[p[0] for p in pts], y=[p[1] for p in pts], mode="markers",
                             marker=dict(color=color, size=size, line=dict(width=0)),
                             xaxis=xa, yaxis=ya, showlegend=False, hoverinfo="skip"))


dots(nfw_core, RED, 6, "x", "y")
dots(nfw_core_fill, RED, 6, "x", "y")
dots(nfw_upper, RED, 4.5, "x", "y")
dots(nfw_scatter, RED, 4.5, "x", "y")
dots(einasto_core, ORANGE, 6.5, "x", "y")
dots(einasto_arc, ORANGE, 5, "x", "y")
dots(einasto_scatter, ORANGE, 4.5, "x", "y")
dots(nosens_arc, GREEN, 4.5, "x", "y")
dots(nosens_tail, GREEN, 4, "x", "y")
dots(nosens_bands, GREEN, 4, "x", "y")
dots(nosens_scatter, GREEN, 3.5, "x", "y")

dots(boost_low_band, BLUE, 6.5, "x2", "y2")
dots(boost_core, BLUE, 7, "x2", "y2")
dots(boost_below, BLUE, 6, "x2", "y2")
dots(boost_high_band, BLUE, 6, "x2", "y2")
dots(boost_scatter, BLUE, 5.5, "x2", "y2")
fig.add_trace(go.Scatter(x=[0.01, 5.9], y=[boost_limit, boost_limit], mode="lines",
                         line=dict(color="black", width=1), xaxis="x2", yaxis="y2",
                         showlegend=False, hoverinfo="skip"))

tickfont = dict(family=SERIF, size=17, color="black")
common = dict(showline=True, linecolor="black", linewidth=1, mirror=True, ticks="inside",
              ticklen=7, tickcolor="black", showgrid=False, zeroline=False, tickfont=tickfont)
xminor = dict(tickvals=x_minor, ticks="inside", ticklen=4, tickcolor="black", showgrid=False)

fig.update_layout(
    width=W, height=H, margin=dict(l=0, r=0, t=0, b=0),
    paper_bgcolor="white", plot_bgcolor="white",
    xaxis=dict(common, type="log", range=[-2, 0.786], tickvals=x_ticks, ticktext=["0.01", "0.1", "1"],
               minor=xminor, domain=[77 / W, 520 / W], anchor="y"),
    yaxis=dict(common, domain=[1 - 457 / H, 1 - 15 / H], anchor="x", range=[-29, -24],
               tickvals=sv_ticks, ticktext=["\u2212" + str(-v) for v in sv_ticks],
               minor=dict(dtick=0.2, ticks="inside", ticklen=4, tickcolor="black", showgrid=False)),
    xaxis2=dict(common, type="log", range=[-2, 0.77], tickvals=x_ticks, ticktext=["0.01", "0.1", "1"],
                minor=xminor, domain=[683 / W, 1133 / W], anchor="y2"),
    yaxis2=dict(common, domain=[1 - 461 / H, 1 - 12 / H], anchor="x2", type="log", range=[-2, 2.69],
                tickvals=boost_ticks, ticktext=["0.01", "0.1", "1", "10", "100"],
                minor=dict(tickvals=boost_minor, ticks="inside", ticklen=4, tickcolor="black", showgrid=False)),
)


def label(px, py, text, size, anchor="center", angle=0, color="black"):
    fig.add_annotation(x=px / W, y=1 - py / H, xref="paper", yref="paper", text=text, showarrow=False,
                       xanchor=anchor, yanchor="middle", textangle=angle,
                       font=dict(family=SERIF, size=size, color=color))


# axis titles and panel captions
label(25, 245, "log<sub>10</sub> <i>σ</i>v(cm<sup>3</sup>/s)", 26, angle=-90)
label(297, 497, "<i>m</i><sub><i>χ</i></sub> (TeV)", 24)
label(263, 543, "<b>(a)</b>", 22)
label(630, 237, "Required Boost factor to exclude", 24, angle=-90)
label(908, 497, "<i>m</i><sub><i>χ</i></sub> (TeV)", 24)
label(884, 543, "(b)", 22)

# in-panel texts
label(512, 27, "BayesFITS (2014)", 14, anchor="right")
label(1123, 21, "BayesFITS (2014)", 14, anchor="right")
label(86, 433, "pMSSM, 2<i>σ</i>", 21, anchor="left")
label(690, 410, "pMSSM, 2<i>σ</i>", 21, anchor="left")
label(690, 438, "CTA sensitivity", 21, anchor="left")

# legend box of panel (a)
x0, x1, yt, yb, r = 104 / W, 250 / W, 1 - 23 / H, 1 - 132 / H, 10
rx, ry = r / W, r / H
fig.add_shape(type="path", xref="paper", yref="paper", line=dict(color="#333333", width=1), fillcolor="white",
              path=(f"M {x0 + rx},{yt} L {x1 - rx},{yt} Q {x1},{yt} {x1},{yt - ry} L {x1},{yb + ry} "
                    f"Q {x1},{yb} {x1 - rx},{yb} L {x0 + rx},{yb} Q {x0},{yb} {x0},{yb + ry} "
                    f"L {x0},{yt - ry} Q {x0},{yt} {x0 + rx},{yt} Z"))
label(177, 36, "CTA sensitivity", 15)
for yy, col, txt in [(59, RED, "Excluded NFW"), (87, ORANGE, "Excluded Einasto"), (116, GREEN, "No sensitivity")]:
    label(115, yy, "●", 11, color=col)
    label(127, yy, txt, 15, anchor="left")

fig.write_html("out.html")
